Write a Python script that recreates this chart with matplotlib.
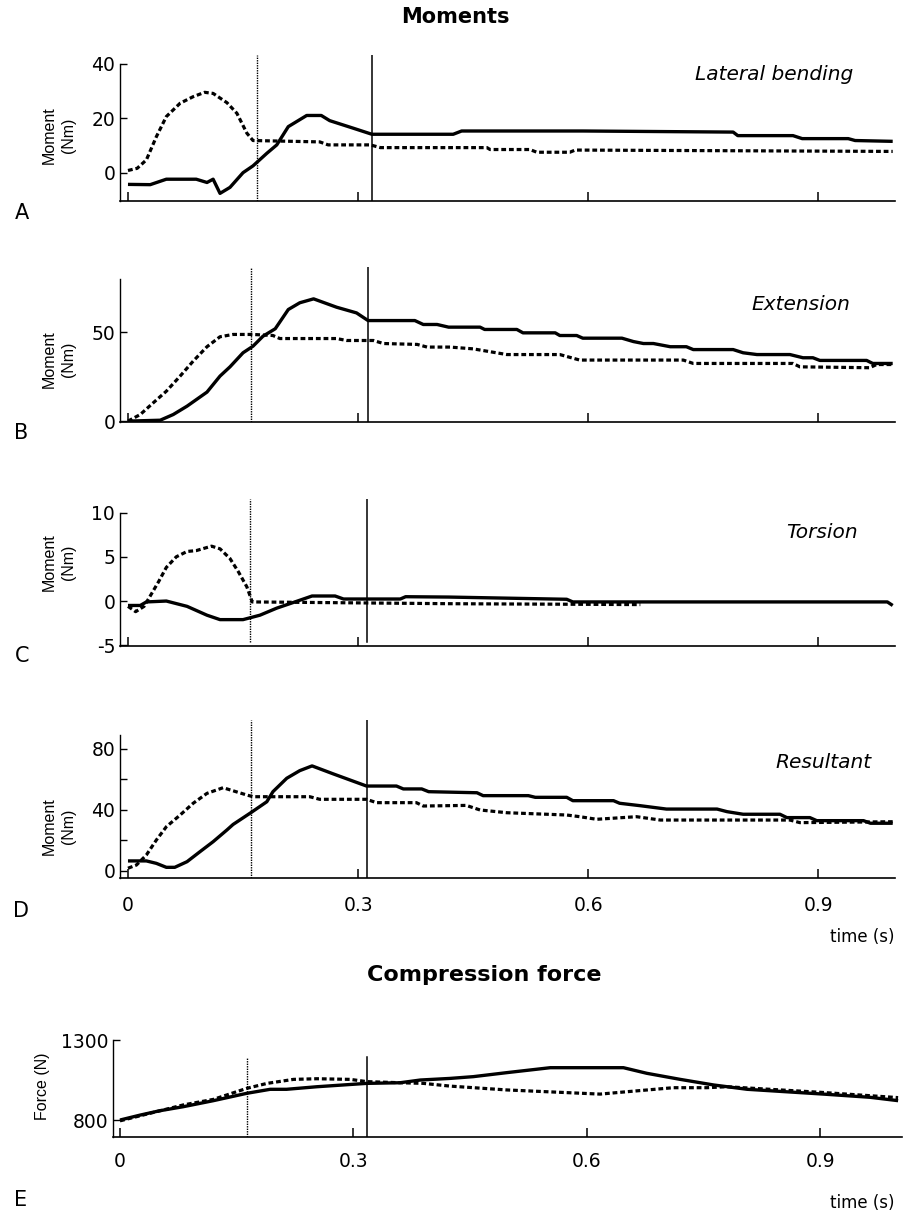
import matplotlib.pyplot as plt

W, H = 907, 1214

plt.rcParams.update({
    "font.family": "DejaVu Sans",
    "axes.linewidth": 1.0,
    "xtick.direction": "in",
    "ytick.direction": "in",
})

# --- data (time in s, moments in Nm, force in N) ---------------------------
lat_t = [0, 0.029, 0.050, 0.089, 0.103, 0.111, 0.120, 0.133, 0.150, 0.163, 0.181, 0.194, 0.209,
         0.233, 0.252, 0.263, 0.294, 0.318, 0.424, 0.435, 0.593, 0.789, 0.795, 0.867, 0.879,
         0.939, 0.948, 0.997]
lat_solid = [-4.2, -4.3, -2.3, -2.3, -3.5, -2.3, -7.5, -5.3, 0.1, 2.6, 7.2, 10.3, 17.0,
             21.1, 21.1, 19.2, 16.4, 14.2, 14.2, 15.4, 15.4, 15.0, 13.7, 13.7, 12.6,
             12.6, 11.9, 11.6]
lat_dt = [0, 0.012, 0.024, 0.037, 0.050, 0.068, 0.085, 0.100, 0.111, 0.129, 0.142, 0.155, 0.163,
          0.250, 0.261, 0.316, 0.329, 0.468, 0.472, 0.524, 0.533, 0.576, 0.583, 0.997]
lat_dotted = [0.9, 1.7, 4.8, 13.3, 20.7, 25.6, 28.0, 29.6, 29.2, 25.8, 21.9, 14.6, 11.9,
              11.4, 10.3, 10.3, 9.3, 9.3, 8.6, 8.6, 7.6, 7.6, 8.4, 7.9]

ext_t = [0, 0.042, 0.059, 0.077, 0.103, 0.120, 0.133, 0.150, 0.163, 0.176, 0.192, 0.209, 0.224,
         0.242, 0.272, 0.298, 0.313, 0.374, 0.385, 0.403, 0.418, 0.459, 0.465, 0.507, 0.515,
         0.557, 0.563, 0.585, 0.593, 0.644, 0.659, 0.672, 0.685, 0.707, 0.728, 0.737, 0.789,
         0.802, 0.820, 0.863, 0.880, 0.893, 0.902, 0.963, 0.971, 0.997]
ext_solid = [0.2, 0.7, 3.9, 8.6, 16.5, 25.5, 30.7, 38.6, 42.3, 47.9, 52.1, 62.9, 66.7,
             68.9, 64.2, 61.0, 56.7, 56.7, 54.5, 54.5, 53.0, 53.0, 51.7, 51.7, 49.8,
             49.8, 48.3, 48.3, 46.8, 46.8, 44.9, 43.8, 43.8, 42.0, 42.0, 40.4, 40.4,
             38.6, 37.6, 37.6, 35.8, 35.8, 34.3, 34.3, 32.6, 32.6]
ext_dt = [0, 0.016, 0.033, 0.050, 0.068, 0.085, 0.103, 0.120, 0.137, 0.163, 0.189, 0.198, 0.272,
          0.285, 0.320, 0.333, 0.377, 0.390, 0.420, 0.450, 0.494, 0.563, 0.589, 0.724, 0.737,
          0.867, 0.876, 0.967, 0.976, 0.997]
ext_dotted = [0.2, 3.9, 10.5, 17.0, 25.5, 33.9, 42.0, 47.6, 48.9, 48.9, 48.3, 46.6, 46.6,
              45.5, 45.5, 43.8, 43.3, 41.8, 41.8, 40.8, 37.6, 37.6, 34.5, 34.5, 32.6,
              32.6, 30.7, 30.2, 32.0, 32.0]

tor_t = [0, 0.016, 0.024, 0.050, 0.077, 0.103, 0.120, 0.150, 0.172, 0.194, 0.216, 0.240, 0.270,
         0.281, 0.355, 0.362, 0.418, 0.572, 0.580, 0.990, 0.997]
tor_solid = [-0.5, -0.5, -0.1, 0.0, -0.6, -1.6, -2.1, -2.1, -1.6, -0.8, -0.15, 0.57, 0.57,
             0.23, 0.23, 0.49, 0.45, 0.2, -0.1, -0.1, -0.5]
tor_dt = [0, 0.010, 0.021, 0.029, 0.040, 0.050, 0.063, 0.077, 0.089, 0.109, 0.120, 0.133, 0.144,
          0.155, 0.162, 0.418, 0.668]
tor_dotted = [-0.6, -1.2, -0.6, 0.57, 2.2, 3.8, 5.0, 5.6, 5.7, 6.2, 5.9, 4.8, 3.3,
              1.6, -0.1, -0.3, -0.4]

res_t = [0, 0.024, 0.037, 0.050, 0.061, 0.077, 0.094, 0.111, 0.129, 0.137, 0.161, 0.181, 0.189,
         0.207, 0.224, 0.240, 0.268, 0.311, 0.350, 0.359, 0.383, 0.392, 0.455, 0.463, 0.522,
         0.531, 0.572, 0.580, 0.633, 0.641, 0.668, 0.702, 0.768, 0.781, 0.802, 0.850, 0.859,
         0.889, 0.898, 0.959, 0.968, 0.997]
res_solid = [6.6, 6.6, 5.0, 2.4, 2.4, 6.1, 12.7, 19.2, 26.9, 30.5, 38.5, 45.4, 52.0,
             60.8, 65.8, 68.9, 63.6, 55.7, 55.7, 53.8, 53.8, 52.0, 51.3, 49.4, 49.4,
             48.3, 48.3, 46.1, 46.1, 44.4, 42.8, 40.6, 40.6, 38.9, 37.2, 37.2, 35.0,
             35.0, 33.0, 33.0, 31.3, 31.3]
res_dt = [0, 0.011, 0.024, 0.037, 0.050, 0.068, 0.085, 0.103, 0.124, 0.155, 0.163, 0.237, 0.250,
          0.311, 0.324, 0.376, 0.385, 0.441, 0.459, 0.494, 0.572, 0.589, 0.611, 0.663, 0.694,
          0.863, 0.876, 0.997]
res_dotted = [1.8, 3.9, 10.5, 20.3, 29.0, 36.7, 44.4, 50.9, 54.6, 49.8, 48.7, 48.7, 47.0,
              47.0, 44.8, 44.8, 42.6, 43.0, 40.0, 38.2, 36.7, 35.6, 33.9, 35.6, 33.4,
              33.4, 31.7, 32.3]

comp_t = [0, 0.026, 0.051, 0.081, 0.120, 0.163, 0.193, 0.214, 0.253, 0.317, 0.360, 0.386, 0.424,
          0.454, 0.497, 0.553, 0.647, 0.677, 0.720, 0.763, 0.806, 0.904, 0.964, 1.0]
comp_solid = [800, 831, 858, 883, 921, 967, 992, 992, 1008, 1029, 1033, 1050, 1060,
              1071, 1096, 1127, 1127, 1092, 1054, 1019, 992, 962, 942, 921]
comp_dt = [0, 0.081, 0.120, 0.163, 0.189, 0.223, 0.253, 0.296, 0.317, 0.360, 0.390, 0.424,
           0.497, 0.617, 0.647, 0.711, 0.754, 0.780, 0.904, 1.0]
comp_dotted = [795, 894, 929, 998, 1029, 1054, 1058, 1054, 1040, 1033, 1029, 1012,
               988, 962, 975, 1002, 1002, 1008, 972, 940]

# event markers (dotted, solid) per panel
events = {
    "A": [0.168, 0.318],
    "B": [0.160, 0.313],
    "C": [0.159, 0.311],
    "D": [0.161, 0.312],
    "E": [0.163, 0.318],
}
time_ticks = [0, 0.3, 0.6, 0.9]
time_labels = ["0", "0.3", "0.6", "0.9"]


def box(l, t, r, b):
    return [l / W, 1 - b / H, (r - l) / W, (b - t) / H]


def px(x, y):
    return x / W, 1 - y / H


fig = plt.figure(figsize=(W / 100, H / 100), dpi=100)

SOLID = dict(color="black", lw=2.4, solid_joinstyle="round", solid_capstyle="butt")
DOTTED = dict(color="black", lw=2.3, ls=(0, (1.5, 0.9)), dash_capstyle="butt")


def panel(rect, xlim, ylim, spine_top, yticks, yticklabels, ev, t1, s, t2, d,
          xlabels=False, xpad=12, ev_ymin=0.0, ev_ymax=1.0):
    ax = fig.add_axes(rect)
    ax.plot(t1, s, **SOLID)
    ax.plot(t2, d, **DOTTED)
    ax.axvline(ev[0], ymin=ev_ymin, ymax=ev_ymax, color="black", lw=1.0, ls=(0, (1, 0.8)))
    ax.axvline(ev[1], ymin=ev_ymin, ymax=ev_ymax, color="black", lw=1.1)
    ax.set_xlim(*xlim)
    ax.set_ylim(*ylim)
    for side in ("top", "right"):
        ax.spines[side].set_visible(False)
    ax.spines["left"].set_bounds(ylim[0], spine_top)
    ax.spines["bottom"].set_linewidth(1.2)
    ax.set_yticks(yticks)
    ax.set_yticklabels(yticklabels)
    ax.set_xticks(time_ticks)
    if xlabels:
        ax.set_xticklabels(time_labels)
    else:
        ax.set_xticklabels([])
    ax.tick_params(axis="y", length=5, width=1, pad=3.5, labelsize=13.5)
    ax.tick_params(axis="x", length=6.5, width=1.1, pad=xpad, labelsize=13.5)
    ax.patch.set_alpha(0)
    return ax


AD_XLIM = (-0.0104, 1.0)

panel(box(120, 55, 895, 201), AD_XLIM, (-10.3, 43.3), 40, [0, 20, 40], ["0", "20", "40"],
      events["A"], lat_t, lat_solid, lat_dt, lat_dotted)
panel(box(120, 267, 895, 422), AD_XLIM, (-0.3, 86.8), 80, [0, 50], ["0", "50"],
      events["B"], ext_t, ext_solid, ext_dt, ext_dotted)
panel(box(120, 499, 895, 646), AD_XLIM, (-5.08, 11.53), 10, [-5, 0, 5, 10],
      ["-5", "0", "5", "10"], events["C"], tor_t, tor_solid, tor_dt, tor_dotted, ev_ymin=0.03)
panel(box(120, 720, 895, 878), AD_XLIM, (-4.6, 99), 89, [0, 20, 40, 60, 80],
      ["0", "", "40", "", "80"], events["D"], res_t, res_solid, res_dt, res_dotted,
      xlabels=True, xpad=13)
panel(box(113, 1040, 902, 1137), (-0.009, 1.005), (694, 1300), 1300, [800, 1300],
      ["800", "1300"], events["E"], comp_t, comp_solid, comp_dt, comp_dotted,
      xlabels=True, xpad=11, ev_ymax=0.82)

# --- texts --------------------------------------------------------------------
fig.text(*px(455, 17), "Moments", ha="center", va="center", fontsize=15, fontweight="bold")
fig.text(*px(484, 975), "Compression force", ha="center", va="center", fontsize=16,
         fontweight="bold")

for letter, (x, y) in {"A": (22, 213), "B": (21, 433), "C": (22, 656),
                       "D": (21, 911), "E": (21, 1200)}.items():
    fig.text(*px(x, y), letter, ha="center", va="center", fontsize=15)

for name, (x, y) in {"Lateral bending": (853, 75), "Extension": (850, 305),
                     "Torsion": (858, 532), "Resultant": (872, 763)}.items():
    fig.text(*px(x, y), name, ha="right", va="center", fontsize=14.5, style="italic")

for y in (937, 1203):
    fig.text(*px(894, y), "time (s)", ha="right", va="center", fontsize=12)

for y in (135, 359, 562, 826):
    fig.text(*px(59, y), "Moment\n(Nm)", ha="center", va="center", rotation=90,
             fontsize=11.5, family="Liberation Sans", linespacing=1.35,
             multialignment="center")
fig.text(*px(43, 1086), "Force (N)", ha="center", va="center", rotation=90,
         fontsize=11.5, family="Liberation Sans")

fig.savefig("out.png", dpi=100, facecolor="white")
